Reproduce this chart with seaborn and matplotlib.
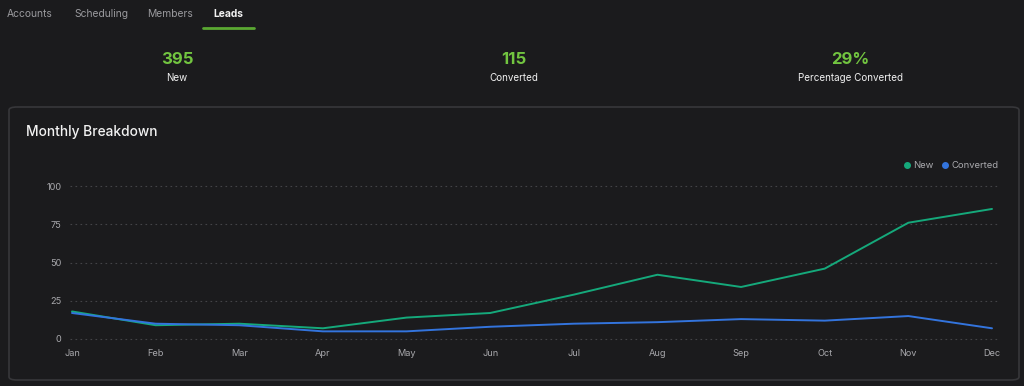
import pandas as pd
import matplotlib.pyplot as plt
import seaborn as sns
from matplotlib.lines import Line2D
from matplotlib.patches import FancyBboxPatch

months = ['Jan', 'Feb', 'Mar', 'Apr', 'May', 'Jun', 'Jul', 'Aug', 'Sep', 'Oct', 'Nov', 'Dec']
new_leads = [18, 9, 10, 7, 14, 17, 29, 42, 34, 46, 76, 85]
converted = [17, 10, 9, 5, 5, 8, 10, 11, 13, 12, 15, 7]

tabs = ['Accounts', 'Scheduling', 'Members', 'Leads']
stat_values = ['395', '115', '29%']
stat_labels = ['New', 'Converted', 'Percentage Converted']

BG = '#1b1b1d'
GREEN = '#15a97b'
BLUE = '#3374dd'
STAT_GREEN = '#72c540'

sns.set_theme(style='dark')
plt.rcParams['font.family'] = ['Inter', 'DejaVu Sans']

df = pd.DataFrame({
  'month': months * 2,
  'idx': list(range(12)) * 2,
  'value': new_leads + converted,
  'series': ['New'] * 12 + ['Converted'] * 12,
})

W, H = 1024, 386
fig = plt.figure(figsize=(W / 100, H / 100), dpi=100)
fig.patch.set_facecolor(BG)

def fx(px):
  return px / W

def fy(py):
  return 1 - py / H

# tabs
tab_x = [30, 101, 170, 228]
for name, x in zip(tabs, tab_x):
  active = name == 'Leads'
  fig.text(fx(x), fy(14), name, ha='center', va='center', fontsize=7.4,
           color='#f2f2f2' if active else '#9a9a9e', fontweight='bold' if active else 'normal')
fig.add_artist(Line2D([fx(203), fx(254)], [fy(27.5), fy(27.5)], color='#5aa832', lw=2))

# summary stats
stat_x = [177, 514, 850]
for v, lab, x in zip(stat_values, stat_labels, stat_x):
  fig.text(fx(x), fy(59), v, ha='center', va='center', fontsize=12, color=STAT_GREEN, fontweight='bold')
  fig.text(fx(x), fy(78), lab, ha='center', va='center', fontsize=7.1, color='#f0f0f0')

# card
card = FancyBboxPatch((fx(9), fy(380)), fx(1010), (380 - 107) / H,
                      boxstyle='round,pad=0,rounding_size=0.008', transform=fig.transFigure,
                      facecolor=BG, edgecolor='#37373a', lw=1.2, zorder=-10)
fig.add_artist(card)
fig.text(fx(26), fy(132), 'Monthly Breakdown', ha='left', va='center', fontsize=9.9,
         color='#f2f2f2', fontweight='medium')

# chart axes: x 0->72px, 11->992px ; y 0->339px, 100->186px
ppx = 920 / 11
ppy = 153 / 100
x0, x1 = -2 / ppx, 11 + 6 / ppx
y0, y1 = -4, 104
left = 72 + x0 * ppx
right = 72 + x1 * ppx
bottom = 339 - y0 * ppy
top = 339 - y1 * ppy
ax = fig.add_axes([fx(left), fy(bottom), fx(right - left), (bottom - top) / H])
ax.set_facecolor('none')

sns.lineplot(data=df, x='idx', y='value', hue='series', palette={'New': GREEN, 'Converted': BLUE},
             hue_order=['New', 'Converted'], lw=1.4, ax=ax, legend=False)
ax.set_xlim(x0, x1)
ax.set_ylim(y0, y1)
ax.set_xticks(range(12))
ax.set_xticklabels(months)
ax.set_yticks([0, 25, 50, 75, 100])
ax.tick_params(colors='#a8a8ac', labelsize=6.6, length=0)
ax.tick_params(axis='y', pad=6)
ax.tick_params(axis='x', pad=3)
ax.grid(False)
for t in [0, 25, 50, 75, 100]:
  ax.axhline(t, color='#444447', lw=0.8, ls=(0, (1.5, 3)), zorder=0)
for s in ax.spines.values():
  s.set_visible(False)
ax.set_xlabel('')
ax.set_ylabel('')

handles = [Line2D([], [], marker='o', ls='', color=GREEN, markersize=4),
           Line2D([], [], marker='o', ls='', color=BLUE, markersize=4)]
leg = fig.legend(handles, ['New', 'Converted'], loc='center right', bbox_to_anchor=(fx(1002), fy(166)),
                 ncol=2, frameon=False, fontsize=6.8, handletextpad=0.1, columnspacing=0.8,
                 handlelength=1.0, borderaxespad=0)
for t in leg.get_texts():
  t.set_color('#a8a8ac')

fig.savefig('out.png', dpi=100, facecolor=BG)
